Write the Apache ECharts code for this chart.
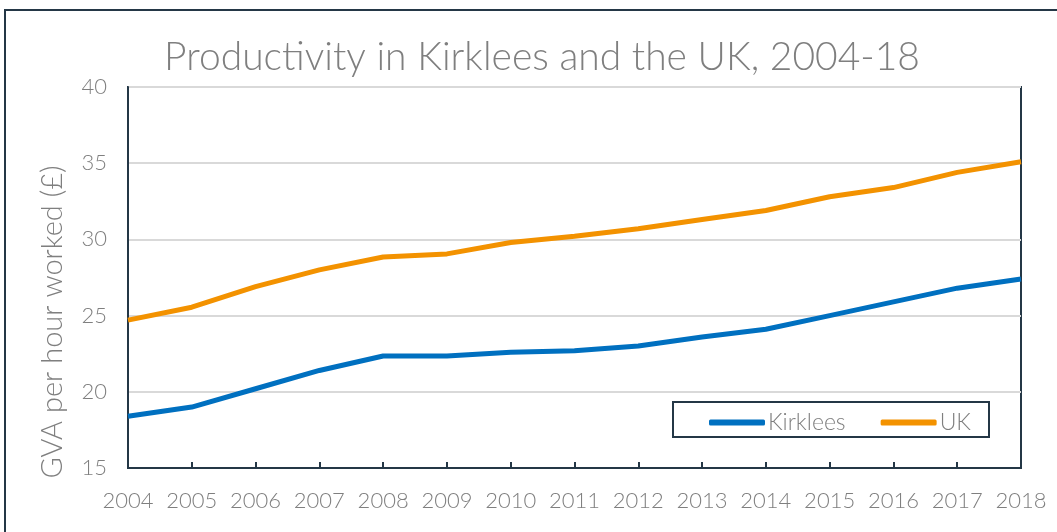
<!DOCTYPE html>
<html>
<head>
<meta charset="utf-8">
<script src="https://cdn.jsdelivr.net/npm/echarts@6/dist/echarts.min.js"></script>
<style>
  html, body { margin: 0; padding: 0; background: #fff; }
  #chart { width: 1057px; height: 532px; }
</style>
</head>
<body>
<div id="chart"></div>
<script>
const years = ["2004", "2005", "2006", "2007", "2008", "2009", "2010", "2011",
  "2012", "2013", "2014", "2015", "2016", "2017", "2018"];
const kirklees = [18.4, 19.0, 20.2, 21.4, 22.35, 22.35, 22.6, 22.7, 23.0, 23.6, 24.1, 25.0, 25.9, 26.8, 27.4];
const uk = [24.7, 25.55, 26.9, 28.0, 28.85, 29.05, 29.8, 30.2, 30.7, 31.3, 31.9, 32.8, 33.4, 34.4, 35.1];

const font = "Lato, 'Noto Sans', sans-serif";
const grey = "#7f7f7f";
const dark = "#243746";

let myChart = echarts.init(document.getElementById("chart"));
myChart.setOption({
  animation: false,
  title: {
    text: "Productivity in Kirklees and the UK, 2004-18",
    left: 537, top: 33, textAlign: "center",
    textStyle: { fontFamily: font, fontSize: 39, fontWeight: 300, color: grey }
  },
  graphic: [{
    type: "rect",
    shape: { x: 5, y: 10, width: 1100, height: 600 },
    style: { fill: "none", stroke: dark, lineWidth: 2 }
  }, {
    type: "rect",
    shape: { x: 673, y: 402, width: 316, height: 35 },
    style: { fill: "#fff", stroke: dark, lineWidth: 2 },
    z: 90
  }, {
    type: "text",
    x: 53, y: 322, rotation: Math.PI / 2,
    style: {
      text: "GVA per hour worked (£)", fill: grey,
      font: "300 29px " + font, align: "center", verticalAlign: "middle"
    }
  }],
  grid: { left: 128, top: 87, right: 36, bottom: 64, show: true, borderColor: dark, borderWidth: 2 },
  legend: {
    left: 704, top: 406, itemGap: 35, itemWidth: 56, itemHeight: 6,
    icon: "roundRect",
    z: 100,
    textStyle: { fontFamily: font, fontSize: 23, fontWeight: 300, color: grey, padding: [0, 0, 0, -2] },
    data: ["Kirklees", "UK"]
  },
  xAxis: {
    type: "category", data: years, boundaryGap: false,
    axisLine: { lineStyle: { color: dark, width: 2 } },
    axisTick: { inside: true, length: 6, interval: 0, lineStyle: { color: dark, width: 2 } },
    axisLabel: { interval: 0, fontFamily: font, fontSize: 22, fontWeight: 300, color: grey, margin: 22 }
  },
  yAxis: {
    type: "value", min: 15, max: 40, interval: 5,
    axisLine: { show: true, lineStyle: { color: dark, width: 2 } },
    axisTick: { show: false },
    axisLabel: { fontFamily: font, fontSize: 22, fontWeight: 300, color: grey, margin: 21 },
    splitLine: { lineStyle: { color: "#d9d9d9", width: 2 } }
  },
  series: [{
    name: "Kirklees", type: "line", data: kirklees, showSymbol: false,
    lineStyle: { color: "#0070c0", width: 5 }, itemStyle: { color: "#0070c0" }
  }, {
    name: "UK", type: "line", data: uk, showSymbol: false,
    lineStyle: { color: "#f39200", width: 5 }, itemStyle: { color: "#f39200" }
  }]
});
</script>
</body>
</html>
